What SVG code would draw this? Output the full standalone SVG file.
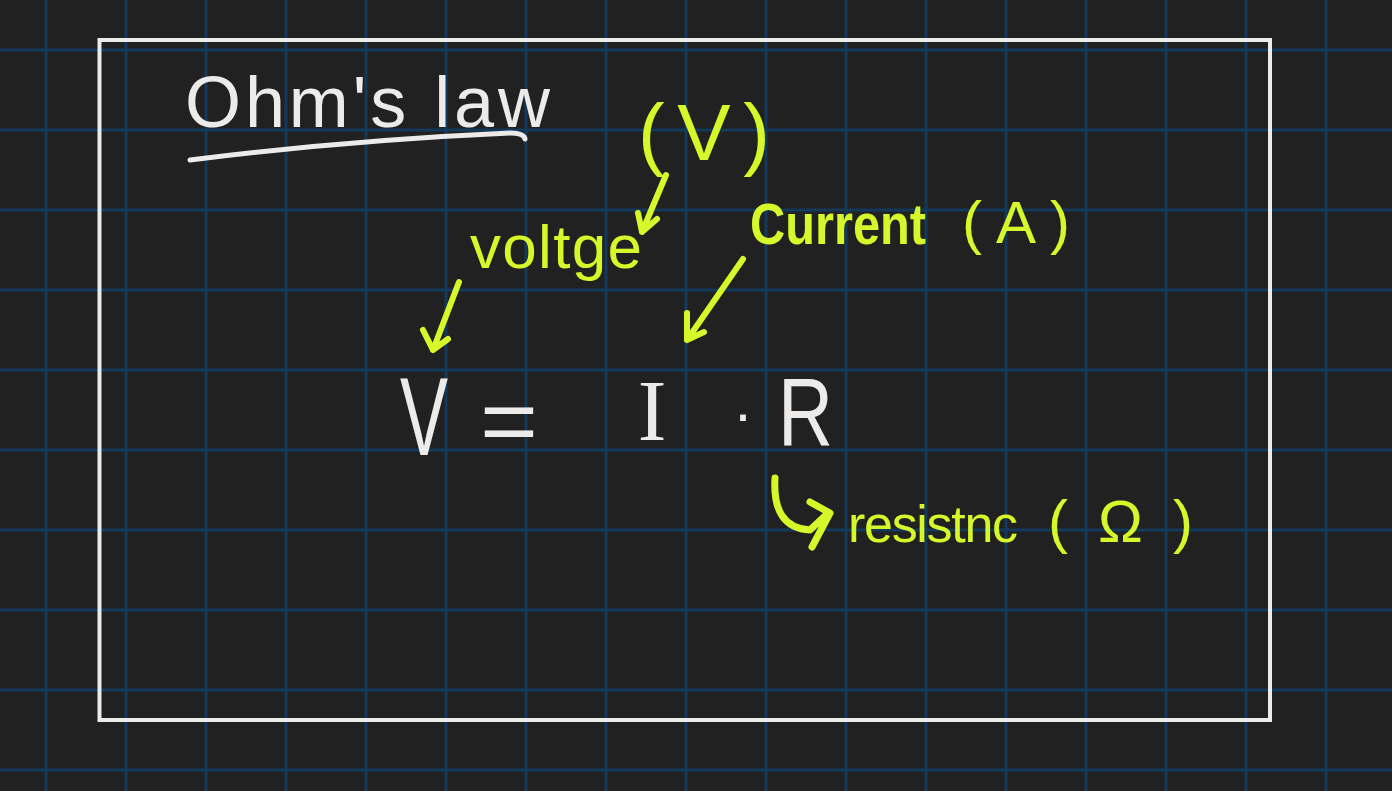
<svg xmlns="http://www.w3.org/2000/svg" width="1392" height="791" viewBox="0 0 1392 791">
<style>
.w{fill:#ecebe9;font-family:"Liberation Sans",Arial,sans-serif}
.y{fill:#d6f72a;font-family:"Liberation Sans",Arial,sans-serif}
.ln{fill:none;stroke-linecap:round;stroke-linejoin:round}
.ya{stroke:#d6f72a;stroke-width:6}
.wa{stroke:#ecebe9;stroke-width:5}
</style>
<rect width="1392" height="791" fill="#212121"/>
<g id="grid" stroke="#133a5c" stroke-width="3">
<path d="M46 0V791M126 0V791M206 0V791M286 0V791M366 0V791M446 0V791M526 0V791M606 0V791M686 0V791M766 0V791M846 0V791M926 0V791M1006 0V791M1086 0V791M1166 0V791M1246 0V791M1326 0V791"/>
<path d="M0 50H1392M0 130H1392M0 210H1392M0 290H1392M0 370H1392M0 450H1392M0 530H1392M0 610H1392M0 690H1392M0 770H1392"/>
</g>
<rect id="frame" x="99.5" y="40" width="1170.5" height="680" fill="none" stroke="#ecebe9" stroke-width="4"/>
<g id="title">
<text class="w" x="185" y="127" font-size="72" textLength="365" lengthAdjust="spacing">Ohm's law</text>
<path class="ln wa" d="M190 160Q350 140 510 133Q524 133 525 139"/>
</g>
<g id="unit-v"><text class="y" x="638" y="160" font-size="80" textLength="132" lengthAdjust="spacing">(V)</text></g>
<g id="voltage"><text class="y" x="470" y="268" font-size="62" textLength="172" lengthAdjust="spacing">voltge</text></g>
<g id="current">
<text class="y" x="750" y="244" font-size="58" font-weight="bold" textLength="176" lengthAdjust="spacingAndGlyphs">Current</text>
<text class="y" x="962" y="243" font-size="60" textLength="108" lengthAdjust="spacing">(A)</text>
</g>
<g id="equation">
<text class="w" x="400" y="455" font-size="112" textLength="48" lengthAdjust="spacingAndGlyphs">V</text>
<text class="w" x="480" y="452" font-size="90" textLength="58" lengthAdjust="spacingAndGlyphs">=</text>
<text class="w" x="652" y="440" font-size="86" text-anchor="middle" style="font-family:'Liberation Serif',serif">I</text>
<text class="w" x="743" y="434" font-size="60" text-anchor="middle">·</text>
<text class="w" x="778" y="446" font-size="96" textLength="55" lengthAdjust="spacingAndGlyphs">R</text>
</g>
<g id="resistance">
<text class="y" x="848" y="542" font-size="52" textLength="170" lengthAdjust="spacing">resistnc</text>
<text class="y" x="1048" y="542" font-size="60" textLength="145" lengthAdjust="spacing">(Ω)</text>
</g>
<g id="connectors" class="ln ya">
<path d="M666 175L642 232M638 213L642 232L657 219"/>
<path d="M459 282L433 350M423 330L433 350L448 339"/>
<path d="M743 259L687 340M687 313L687 340L704 332"/>
<path d="M775 478Q772 528 810 530L828 513M810 502L830 513L812 547" stroke-width="7"/>
</g>
</svg>
